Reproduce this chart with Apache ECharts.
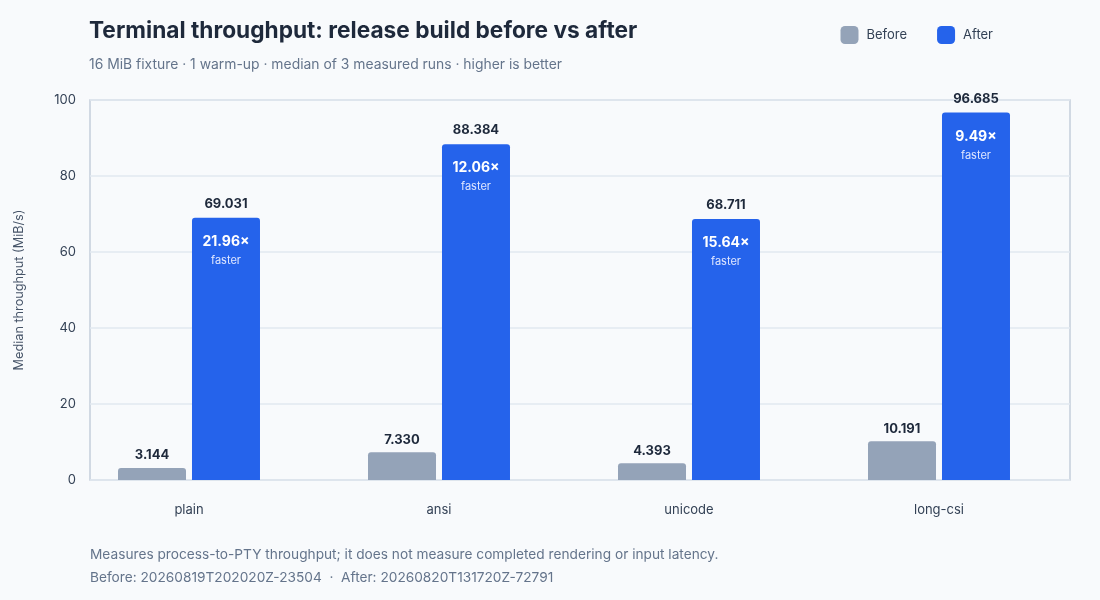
<!DOCTYPE html>
<html style="height: 100%">
<head>
    <meta charset="utf-8">
    <title>Terminal throughput</title>
</head>
<body style="height: 100%; margin: 0; background: #f8fafc">
    <div id="container" style="width: 1100px; height: 600px"></div>
    <script src="https://cdn.jsdelivr.net/npm/echarts@6/dist/echarts.min.js"></script>
    <script type="text/javascript">
        // data
        var fixtures = ['plain', 'ansi', 'unicode', 'long-csi'];
        var beforeVals = [3.144, 7.330, 4.393, 10.191];
        var afterVals = [69.031, 88.384, 68.711, 96.685];
        var speedups = ['21.96', '12.06', '15.64', '9.49'];
        var yTicks = { min: 0, max: 100, interval: 20 };

        var font = 'Inter, "Noto Sans", sans-serif';
        var dom = document.getElementById('container');
        var myChart = echarts.init(dom);

        var option = {
            backgroundColor: '#f8fafc',
            textStyle: { fontFamily: font },
            title: {
                text: 'Terminal throughput: release build before vs after',
                subtext: '16 MiB fixture · 1 warm-up · median of 3 measured runs · higher is better',
                left: 84,
                top: 15,
                itemGap: 15,
                textStyle: { fontSize: 22.7, fontWeight: 700, color: '#1e293b', fontFamily: font },
                subtextStyle: { fontSize: 13.9, color: '#64748b', fontFamily: font }
            },
            legend: {
                data: ['Before', 'After'],
                right: 102,
                top: 21,
                icon: 'roundRect',
                itemWidth: 18,
                itemHeight: 18,
                itemGap: 30,
                textStyle: { fontSize: 13, color: '#334155', fontFamily: font, padding: [0, 0, 0, 3] }
            },
            grid: [
                // visible frame + y scale
                { left: 90, right: 30, top: 100, bottom: 120, show: true,
                  borderColor: '#c4ceda', borderWidth: 1.5, backgroundColor: 'transparent' },
                // bars
                { left: 64, right: 36, top: 100, bottom: 120 }
            ],
            xAxis: [
                { gridIndex: 0, type: 'value', show: false },
                {
                    gridIndex: 1,
                    type: 'category',
                    data: fixtures,
                    axisLine: { show: false },
                    axisTick: { show: false },
                    axisLabel: { margin: 24, fontSize: 13, color: '#334155', fontFamily: font }
                }
            ],
            yAxis: [
                {
                    gridIndex: 0,
                    type: 'value',
                    min: yTicks.min,
                    max: yTicks.max,
                    interval: yTicks.interval,
                    name: 'Median throughput (MiB/s)',
                    nameLocation: 'middle',
                    nameGap: 64,
                    nameTextStyle: { fontSize: 12.7, color: '#475569', fontFamily: font },
                    axisLine: { show: false },
                    axisTick: { show: false },
                    axisLabel: { margin: 14, fontSize: 13, color: '#334155', fontFamily: font },
                    splitLine: { lineStyle: { color: '#e2e8f0', width: 1.5 } }
                },
                {
                    gridIndex: 1,
                    type: 'value',
                    min: yTicks.min,
                    max: yTicks.max,
                    show: false
                }
            ],
            series: [
                {
                    name: 'Before',
                    type: 'bar',
                    xAxisIndex: 1,
                    yAxisIndex: 1,
                    data: beforeVals,
                    barWidth: 68,
                    barGap: '8.8%',
                    itemStyle: { color: '#94a3b8', borderRadius: [3, 3, 0, 0] },
                    label: {
                        show: true,
                        position: 'top',
                        distance: 6,
                        fontSize: 13,
                        fontWeight: 700,
                        color: '#1e293b',
                        fontFamily: font,
                        formatter: function (p) { return p.value.toFixed(3); }
                    }
                },
                {
                    name: 'After',
                    type: 'bar',
                    xAxisIndex: 1,
                    yAxisIndex: 1,
                    data: afterVals,
                    barWidth: 68,
                    barGap: '8.8%',
                    itemStyle: { color: '#2563eb', borderRadius: [3, 3, 0, 0] },
                    label: {
                        show: true,
                        position: 'insideTop',
                        distance: 0,
                        offset: [0, -22],
                        align: 'center',
                        fontFamily: font,
                        formatter: function (p) {
                            return '{v|' + p.value.toFixed(3) + '}\n{sp| }\n{x|' +
                                speedups[p.dataIndex] + '×}\n{f|faster}';
                        },
                        rich: {
                            v: { fontSize: 13, fontWeight: 700, color: '#1e293b', lineHeight: 16, fontFamily: font },
                            sp: { fontSize: 10, lineHeight: 21 },
                            x: { fontSize: 14, fontWeight: 700, color: '#ffffff', lineHeight: 18, fontFamily: font },
                            f: { fontSize: 11, color: '#e0e7ff', lineHeight: 20, fontFamily: font }
                        }
                    }
                }
            ],
            graphic: [
                {
                    type: 'text',
                    left: 90,
                    top: 548,
                    style: {
                        text: 'Measures process-to-PTY throughput; it does not measure completed rendering or input latency.',
                        fontSize: 13.7, fill: '#64748b', fontFamily: font
                    }
                },
                {
                    type: 'text',
                    left: 90,
                    top: 571,
                    style: {
                        text: 'Before: 20260819T202020Z-23504  ·  After: 20260820T131720Z-72791',
                        fontSize: 13.7, fill: '#64748b', fontFamily: font
                    }
                }
            ]
        };

        myChart.setOption(option);
    </script>
</body>
</html>
